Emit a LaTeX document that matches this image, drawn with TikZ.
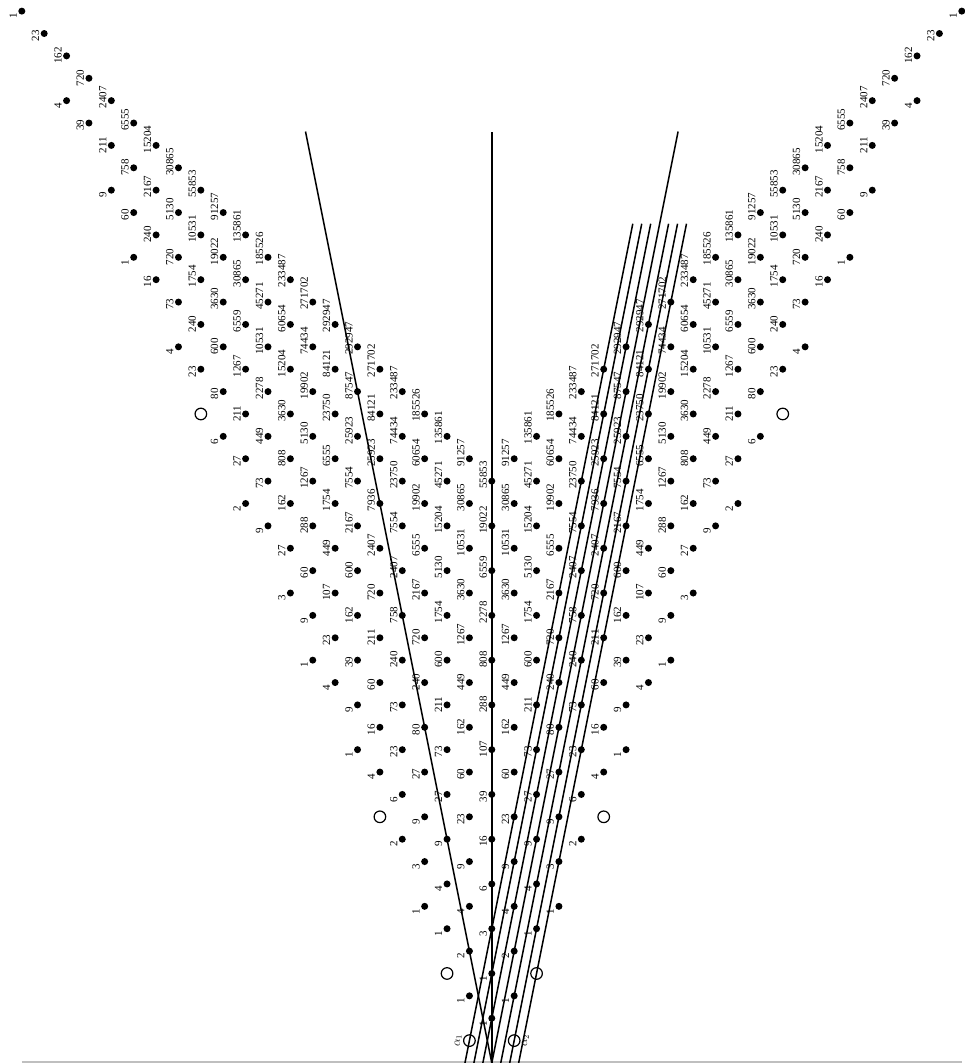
\documentclass[tikz,border=0pt]{standalone}
\usepackage{fontspec}
\setmainfont{Liberation Serif}
\newcount\cm \newcount\cn \newcount\ct
\newif\ifredo
\newif\ifdrawit
\def\setmu#1#2#3{\expandafter\def\csname mu-#1-#2\endcsname{#3}}
\setmu{1}{1}{1}
\setmu{2}{2}{1}\setmu{3}{2}{2}
\setmu{3}{3}{3}\setmu{4}{3}{4}
\setmu{4}{4}{6}\setmu{5}{4}{9}\setmu{6}{4}{9}
\setmu{5}{5}{16}\setmu{6}{5}{23}\setmu{7}{5}{27}
\setmu{6}{6}{39}\setmu{7}{6}{60}\setmu{8}{6}{73}\setmu{9}{6}{80}
\setmu{7}{7}{107}\setmu{8}{7}{162}\setmu{9}{7}{211}\setmu{10}{7}{240}
\setmu{8}{8}{288}\setmu{9}{8}{449}\setmu{10}{8}{600}\setmu{11}{8}{720}\setmu{12}{8}{758}
\setmu{9}{9}{808}\setmu{10}{9}{1267}\setmu{11}{9}{1754}\setmu{12}{9}{2167}\setmu{13}{9}{2407}
\setmu{10}{10}{2278}\setmu{11}{10}{3630}\setmu{12}{10}{5130}\setmu{13}{10}{6555}\setmu{14}{10}{7554}\setmu{15}{10}{7936}
\setmu{11}{11}{6559}\setmu{12}{11}{10531}\setmu{13}{11}{15204}\setmu{14}{11}{19902}\setmu{15}{11}{23750}\setmu{16}{11}{25923}
\setmu{12}{12}{19022}\setmu{13}{12}{30865}\setmu{14}{12}{45271}\setmu{15}{12}{60654}\setmu{16}{12}{74434}\setmu{17}{12}{84121}\setmu{18}{12}{87547}
\setmu{13}{13}{55853}\setmu{14}{13}{91257}\setmu{15}{13}{135861}\setmu{16}{13}{185526}\setmu{17}{13}{233487}\setmu{18}{13}{271702}\setmu{19}{13}{292947}
\def\reduce{%
  \loop
    \redofalse
    \ifnum\numexpr2*\cm\relax>\numexpr3*\cn\relax
      \cm=\numexpr3*\cn-\cm\relax\redotrue
    \else
      \ifnum\numexpr2*\cn\relax>\numexpr3*\cm\relax
        \cn=\numexpr3*\cm-\cn\relax\redotrue
      \fi
    \fi
  \ifredo\repeat
  \ifnum\cm<\cn\relax\ct=\cm\relax\cm=\cn\relax\cn=\ct\relax\fi
  \edef\multval{\ifcsname mu-\the\cm-\the\cn\endcsname\csname mu-\the\cm-\the\cn\endcsname\else ??\fi}%
}
\begin{document}
\begin{tikzpicture}[x=1pt,y=1pt,
  dot/.style={circle,fill=black,inner sep=0pt,minimum size=7pt},
  rroot/.style={circle,draw=black,line width=1.2pt,inner sep=0pt,minimum size=11.6pt},
  lab/.style={rotate=90,anchor=base west,inner sep=0pt,font=\fontsize{11}{13}\selectfont},
  alab/.style={rotate=90,inner sep=1.2pt,font=\fontsize{11.5}{13}\selectfont},
  wall/.style={line width=1.5pt},
  pline/.style={line width=1.5pt}]
\fill[white] (0,0) rectangle (964,1063);
\useasboundingbox (0,0) rectangle (964,1063);
\def\U{22.38}\def\XC{491.8}
% base line
\coordinate (g1) at (21.8,1);
\coordinate (g2) at (961.8,1);
\draw[gray!50,line width=1.3pt] (g1) -- (g2);
% chamber walls
\coordinate (O) at (\XC,0);
\coordinate (WL) at ({\XC-\U*41.62/5},{\U*41.62});
\coordinate (WC) at (\XC,{\U*41.62});
\coordinate (WR) at ({\XC+\U*41.62/5},{\U*41.62});
\draw[wall] (O) -- (WL);
\draw[wall] (O) -- (WC);
\draw[wall] (O) -- (WR);
% parallel lines
\foreach \k in {-3,-2,-1,1,2,3}{
  \coordinate (pb\k) at ({\XC+\U*0.4*\k},0);
  \coordinate (pt\k) at ({\XC+\U*(7.5+0.4*\k)},{\U*37.5});
  \draw[pline] (pb\k) -- (pt\k);
}
% imaginary roots with multiplicities
\foreach \m in {1,...,34}{
  \foreach \n in {1,...,34}{
    \ifnum\numexpr\m*\m+\n*\n-3*\m*\n\relax<0
      \drawitfalse
      \ifnum\m<14\relax\drawittrue\fi
      \ifnum\n<14\relax\drawittrue\fi
      \ifdrawit
        \cm=\m\relax\cn=\n\relax
        \reduce
        \node[dot] (p-\m-\n) at ({\XC+\U*(\n-\m)},{\U*(\n+\m)}) {};
        \node[lab] (l-\m-\n) at ([xshift=-5pt,yshift=-8pt]p-\m-\n.center) {\multval};
      \fi
    \fi
  }
}
% real roots
\foreach \m/\n in {1/0,0/1,3/1,1/3,8/3,3/8,21/8,8/21}{
  \node[rroot] (r-\m-\n) at ({\XC+\U*(\n-\m)},{\U*(\n+\m)}) {};
}
\node[alab,anchor=south] (a1) at (r-1-0.west) {$\alpha_1$};
\node[alab,anchor=north] (a2) at (r-0-1.east) {$\alpha_2$};
\end{tikzpicture}
\end{document}
